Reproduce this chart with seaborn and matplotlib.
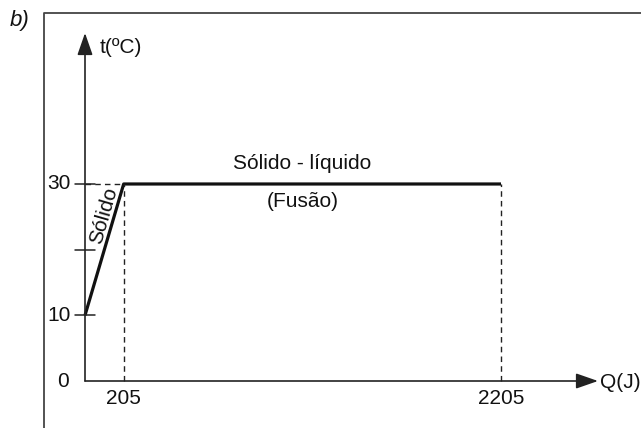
import matplotlib
matplotlib.use("Agg")
import matplotlib.pyplot as plt
import seaborn as sns
import pandas as pd
import numpy as np

# Data
heat_J = [0, 205, 2205]
temp_C = [10, 30, 30]
ytick_vals = [10, 20, 30]
ytick_labels = ["10", "", "30"]
xtick_vals = [205, 2205]
xtick_labels = ["205", "2205"]

sns.set_theme(style="white")
plt.rcParams['font.family'] = ['Liberation Sans', 'DejaVu Sans']

W, H = 641, 428
fig = plt.figure(figsize=(W / 100, H / 100), dpi=100)
ax = fig.add_axes([0, 0, 1, 1])
ax.set_axis_off()

# data <-> pixel mapping: x pixel = 85 + x*0.18866 ; y pixel(top) = 381 - y*6.567
sx, sy = 0.18866, 6.567
ax.set_xlim(-85 / sx, (W - 85) / sx)
ax.set_ylim((381 - H) / sy, 381 / sy)

def px2x(p):
    return (p - 85) / sx

def px2y(p):
    return (381 - p) / sy

col = "#222222"
tc = "#111111"
fs = 15

df = pd.DataFrame({"Q": heat_J, "t": temp_C})
sns.lineplot(data=df, x="Q", y="t", ax=ax, color="#111111", lw=2.3, sort=False,
             solid_capstyle="butt")

# Axes with arrows
ap = dict(arrowstyle="-|>,head_length=1.35,head_width=0.47", color=col, lw=1.2,
          shrinkA=0, shrinkB=0, mutation_scale=10)
ax.annotate("", xy=(0, px2y(33)), xytext=(0, 0), arrowprops=ap)
ax.annotate("", xy=(px2x(598), 0), xytext=(0, 0), arrowprops=ap)

# dashed guides
ax.plot([heat_J[1], heat_J[1]], [0, temp_C[1]], ls=(0, (4, 3)), color=col, lw=1)
ax.plot([heat_J[2], heat_J[2]], [0, temp_C[2]], ls=(0, (4, 3)), color=col, lw=1)
ax.plot([0, heat_J[1]], [temp_C[1], temp_C[1]], ls=(0, (4, 3)), color=col, lw=1)

# y ticks
tick_half = 10 / sx
for v, lab in zip(ytick_vals, ytick_labels):
    ax.plot([-tick_half, tick_half], [v, v], color=col, lw=1.1)
    if lab:
        ax.text(px2x(59), v, lab, ha="center", va="center", fontsize=fs, color=tc)
ax.text(px2x(63.5), px2y(381.5), "0", ha="center", va="center", fontsize=fs, color=tc)

for v, lab in zip(xtick_vals, xtick_labels):
    ax.text(v, px2y(399), lab, ha="center", va="center", fontsize=fs, color=tc)

# labels
ax.text(px2x(100), px2y(47), "t(ºC)", ha="left", va="center", fontsize=fs, color=tc)
ax.text(px2x(600), px2y(383), "Q(J)", ha="left", va="center", fontsize=fs, color=tc)
ax.text(px2x(302), px2y(163), "Sólido - líquido", ha="center", va="center", fontsize=fs, color=tc)
ax.text(px2x(303), px2y(201), "(Fusão)", ha="center", va="center", fontsize=fs, color=tc)
ax.text(px2x(104), px2y(216), "Sólido", ha="center", va="center", fontsize=fs, color=tc,
        rotation=74, rotation_mode="anchor")
ax.text(px2x(10), px2y(20), "b)", ha="left", va="center", fontsize=fs + 1, style="italic",
        color=tc)

# frame (open bottom/right)
ax.plot([px2x(43.5), px2x(43.5), px2x(641)], [px2y(428), px2y(13), px2y(13)],
        color="#444444", lw=1.3, solid_capstyle="butt", clip_on=False)

fig.savefig("out.png", dpi=100)
